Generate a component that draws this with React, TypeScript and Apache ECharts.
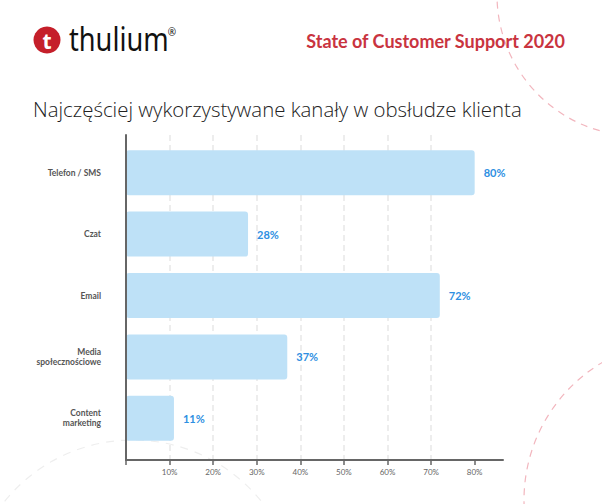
import React, { useEffect, useRef } from "react";
import * as echarts from "echarts";

const categories = ["Telefon / SMS", "Czat", "Email", "Media\nspołecznościowe", "Content\nmarketing"];
const values = [80, 28, 72, 37, 11];
const tickValues = [0, 10, 20, 30, 40, 50, 60, 70, 80];
const tickLabelValues = [10, 20, 30, 40, 50, 60, 70, 80];

const headerText = "State of Customer Support 2020";
const titleText = "Najczęściej wykorzystywane kanały w obsłudze klienta";
const brandText = "thulium";

export default function App() {
  const ref = useRef<HTMLDivElement>(null);
  useEffect(() => {
    document.body.style.margin = "0";
    const chart = echarts.init(ref.current!, null, { renderer: "svg" });
    const gridLeft = 126;
    const gridWidth = 377;
    const xMax = 86.5;
    chart.setOption({
      animation: false,
      backgroundColor: "#ffffff",
      grid: [
        { left: gridLeft, width: gridWidth, top: 142, height: 307 },
        { left: gridLeft, width: gridWidth, top: 135, bottom: 44 },
      ],
      xAxis: [
        { type: "value", gridIndex: 0, min: 0, max: xMax, interval: 10, show: false },
        {
          type: "value",
          gridIndex: 1,
          min: 0,
          max: xMax,
          interval: 10,
          position: "bottom",
          axisLine: { show: true, onZero: false, lineStyle: { color: "#666666", width: 2 } },
          axisTick: { show: true, customValues: tickValues, length: 5, lineStyle: { color: "#666666", width: 1.5 } },
          axisLabel: {
            customValues: tickLabelValues,
            formatter: "{value}%",
            fontFamily: "Lato",
            fontSize: 8,
            color: "#666666",
            margin: 8,
          },
          splitLine: {
            show: true,
            showMinLine: false,
            showMaxLine: false,
            lineStyle: { color: "#e8e8e8", width: 1.5, type: [6, 4] },
          },
        },
      ],
      yAxis: [
        {
          type: "category",
          gridIndex: 0,
          inverse: true,
          data: categories,
          axisLine: { show: false },
          axisTick: { show: false },
          axisLabel: {
            fontFamily: "Lato",
            fontWeight: "bold",
            fontSize: 8.5,
            color: "#555555",
            margin: 25,
            align: "right",
            lineHeight: 10,
          },
        },
        {
          type: "value",
          gridIndex: 1,
          min: 0,
          max: 1,
          z: 3,
          axisLine: { show: true, onZero: false, lineStyle: { color: "#666666", width: 2 } },
          axisTick: { show: false },
          axisLabel: { show: false },
          splitLine: { show: false },
        },
      ],
      series: [
        {
          type: "bar",
          xAxisIndex: 0,
          yAxisIndex: 0,
          data: values,
          barWidth: 45,
          itemStyle: { color: "#bee1f7", borderRadius: 3 },
          label: {
            show: true,
            position: "right",
            distance: 9,
            formatter: "{c}%",
            fontFamily: "Lato",
            fontWeight: "bold",
            fontSize: 11,
            color: "#2e8fe2",
          },
        },
      ],
      graphic: [
        {
          type: "circle",
          silent: true,
          z: -10,
          shape: { cx: 638, cy: -5, r: 141 },
          style: { fill: "none", stroke: "#f2b6be", lineWidth: 1.2, lineDash: [7, 6] },
        },
        {
          type: "circle",
          silent: true,
          z: -10,
          shape: { cx: 684, cy: 500, r: 160 },
          style: { fill: "none", stroke: "#f2b6be", lineWidth: 1.2, lineDash: [7, 6] },
        },
        {
          type: "circle",
          silent: true,
          z: -10,
          shape: { cx: 133, cy: 605, r: 165 },
          style: { fill: "none", stroke: "#eeeeee", lineWidth: 1.2, lineDash: [8, 7] },
        },
        {
          type: "circle",
          silent: true,
          shape: { cx: 47, cy: 40, r: 13.5 },
          style: { fill: "#c51f2a" },
        },
        {
          type: "text",
          silent: true,
          x: 47,
          y: 41,
          style: {
            text: "t",
            fill: "#ffffff",
            font: "bold 21px 'Noto Sans'",
            align: "center",
            verticalAlign: "middle",
          },
        },
        {
          type: "text",
          silent: true,
          x: 69,
          y: 39,
          scaleX: 0.85,
          style: {
            text: brandText,
            fill: "#111111",
            font: "400 32px 'Noto Sans'",
            align: "left",
            verticalAlign: "middle",
          },
        },
        {
          type: "text",
          silent: true,
          x: 172,
          y: 32,
          style: {
            text: "®",
            fill: "#111111",
            font: "400 10px 'Noto Sans'",
            align: "center",
            verticalAlign: "middle",
          },
        },
        {
          type: "text",
          silent: true,
          x: 565,
          y: 40.5,
          style: {
            text: headerText,
            fill: "#c9343f",
            font: "bold 18px Lato",
            align: "right",
            verticalAlign: "middle",
          },
        },
        {
          type: "text",
          silent: true,
          x: 33,
          y: 109,
          style: {
            text: titleText,
            fill: "#222222",
            font: "300 20.4px 'Open Sans'",
            align: "left",
            verticalAlign: "middle",
          },
        },
      ],
    });
    return () => chart.dispose();
  }, []);
  return <div ref={ref} style={{ width: 602, height: 504 }} />;
}
